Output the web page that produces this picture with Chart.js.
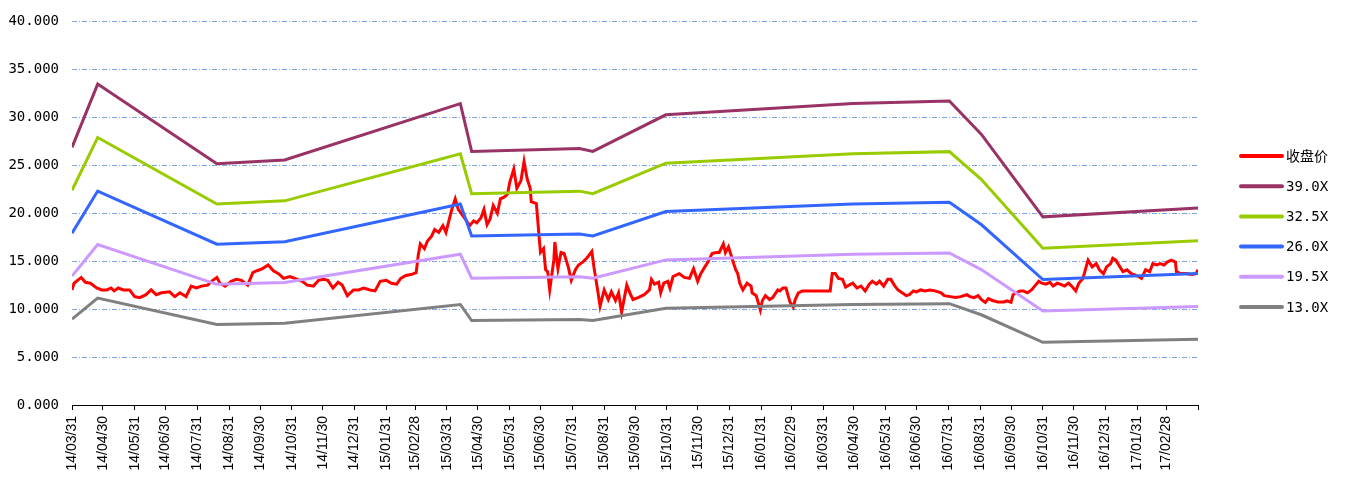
<!DOCTYPE html>
<html>
<head>
<meta charset="utf-8">
<script src="https://cdn.jsdelivr.net/npm/chart.js@4.4.1/dist/chart.umd.min.js"></script>
<style>
  html, body { margin: 0; padding: 0; background: #fff; }
  #wrap { width: 1353px; height: 485px; position: relative; }
</style>
</head>
<body>
<div id="wrap"><canvas id="pe"></canvas></div>
<script>
// month-end tick labels on the date axis (axis runs to 17/03/31, unlabeled)
const tickLabels = ['14/03/31','14/04/30','14/05/31','14/06/30','14/07/31','14/08/31','14/09/30','14/10/31','14/11/30','14/12/31',
  '15/01/31','15/02/28','15/03/31','15/04/30','15/05/31','15/06/30','15/07/31','15/08/31','15/09/30','15/10/31','15/11/30','15/12/31',
  '16/01/31','16/02/29','16/03/31','16/04/30','16/05/31','16/06/30','16/07/31','16/08/31','16/09/30','16/10/31','16/11/30','16/12/31',
  '17/01/31','17/02/28'];
const axisStart = '14/03/31';
const axisEnd = '17/03/31';

// closing price (收盘价)
const closeDates = ['14/03/31','14/04/02','14/04/09','14/04/13','14/04/18','14/04/24','14/04/29','14/05/04','14/05/08','14/05/11',
  '14/05/15','14/05/20','14/05/26','14/05/31','14/06/05','14/06/11','14/06/16','14/06/21','14/06/26','14/07/04',
  '14/07/09','14/07/14','14/07/20','14/07/25','14/07/30','14/08/04','14/08/10','14/08/15','14/08/19','14/08/22',
  '14/08/27','14/09/02','14/09/07','14/09/12','14/09/18','14/09/23','14/09/27','14/10/02','14/10/08','14/10/13',
  '14/10/18','14/10/23','14/10/29','14/11/03','14/11/10','14/11/15','14/11/21','14/11/26','14/12/01','14/12/05',
  '14/12/10','14/12/15','14/12/19','14/12/24','14/12/30','15/01/04','15/01/09','15/01/15','15/01/20','15/01/25',
  '15/01/31','15/02/05','15/02/10','15/02/14','15/02/19','15/02/24','15/03/01','15/03/03','15/03/05','15/03/09',
  '15/03/12','15/03/16','15/03/19','15/03/23','15/03/27','15/03/30','15/04/03','15/04/05','15/04/08','15/04/11',
  '15/04/15','15/04/19','15/04/22','15/04/26','15/04/29','15/05/03','15/05/06','15/05/09','15/05/12','15/05/15',
  '15/05/19','15/05/22','15/05/26','15/05/29','15/05/31','15/06/04','15/06/07','15/06/11','15/06/14','15/06/17',
  '15/06/20','15/06/21','15/06/26','15/06/29','15/06/30','15/07/03','15/07/05','15/07/07','15/07/09','15/07/13',
  '15/07/14','15/07/17','15/07/20','15/07/23','15/07/27','15/07/30','15/08/03','15/08/06','15/08/10','15/08/14',
  '15/08/19','15/08/21','15/08/24','15/08/27','15/08/31','15/09/04','15/09/07','15/09/11','15/09/14','15/09/17',
  '15/09/22','15/09/25','15/09/28','15/10/03','15/10/09','15/10/14','15/10/16','15/10/19','15/10/23','15/10/25',
  '15/10/28','15/11/01','15/11/03','15/11/06','15/11/12','15/11/17','15/11/22','15/11/26','15/11/30','15/12/03',
  '15/12/07','15/12/10','15/12/14','15/12/18','15/12/21','15/12/25','15/12/27','15/12/30','16/01/03','16/01/06',
  '16/01/08','16/01/10','16/01/13','16/01/17','16/01/21','16/01/22','16/01/26','16/01/30','16/02/01','16/02/04',
  '16/02/08','16/02/11','16/02/16','16/02/18','16/02/21','16/02/24','16/02/26','16/02/28','16/03/02','16/03/04',
  '16/03/07','16/03/11','16/04/07','16/04/09','16/04/12','16/04/15','16/04/19','16/04/22','16/04/27','16/04/29',
  '16/05/03','16/05/07','16/05/11','16/05/15','16/05/18','16/05/22','16/05/25','16/05/29','16/06/02','16/06/05',
  '16/06/09','16/06/12','16/06/16','16/06/20','16/06/23','16/06/27','16/06/30','16/07/04','16/07/08','16/07/13',
  '16/07/18','16/07/24','16/07/27','16/08/02','16/08/07','16/08/12','16/08/18','16/08/21','16/08/25','16/08/29',
  '16/09/01','16/09/05','16/09/08','16/09/12','16/09/17','16/09/23','16/09/26','16/09/30','16/10/02','16/10/05',
  '16/10/09','16/10/12','16/10/16','16/10/20','16/10/23','16/10/27','16/10/30','16/11/03','16/11/07','16/11/10',
  '16/11/14','16/11/17','16/11/21','16/11/25','16/11/28','16/12/02','16/12/05','16/12/09','16/12/13','16/12/14',
  '16/12/18','16/12/22','16/12/25','16/12/29','17/01/01','17/01/05','17/01/07','17/01/10','17/01/14','17/01/17',
  '17/01/21','17/01/25','17/01/28','17/02/01','17/02/04','17/02/08','17/02/12','17/02/15','17/02/19','17/02/22',
  '17/02/26','17/03/01','17/03/05','17/03/09','17/03/10','17/03/14','17/03/19','17/03/25','17/03/29','17/03/31'];
const closeValues = [12.0,12.7,13.3,12.8,12.7,12.2,12.0,12.0,12.2,11.9,
  12.2,12.0,12.0,11.3,11.2,11.5,12.0,11.5,11.7,11.8,
  11.3,11.7,11.3,12.4,12.2,12.4,12.5,13.0,13.3,12.7,
  12.4,12.9,13.1,13.0,12.5,13.8,14.0,14.2,14.6,14.0,
  13.7,13.2,13.4,13.2,12.9,12.5,12.4,13.0,13.1,13.0,
  12.2,12.8,12.5,11.4,12.0,12.0,12.2,12.0,11.9,12.9,
  13.0,12.7,12.6,13.2,13.5,13.6,13.8,15.6,16.8,16.3,
  17.1,17.6,18.3,18.0,18.7,18.0,19.7,20.5,21.5,20.4,
  19.8,19.2,18.7,19.2,19.0,19.5,20.4,18.8,19.4,20.8,
  20.0,21.5,21.7,22.0,23.2,24.6,22.6,23.4,25.4,23.6,
  22.6,21.2,21.0,17.1,15.9,16.3,14.1,13.9,12.0,15.1,
  17.0,14.2,15.9,15.8,14.4,13.0,14.1,14.6,14.9,15.3,
  16.0,14.4,12.4,10.3,12.0,11.0,11.8,10.9,11.7,9.7,
  12.5,11.7,11.0,11.2,11.5,12.0,13.1,12.6,12.8,11.7,
  12.7,12.9,12.2,13.4,13.7,13.3,13.2,14.2,12.9,13.7,
  14.4,14.9,15.8,15.9,15.9,16.8,15.9,16.5,15.1,14.1,
  13.7,12.7,12.0,12.7,12.4,11.7,11.4,9.9,10.9,11.4,
  11.0,11.2,12.0,11.9,12.2,12.2,11.4,10.7,10.2,11.0,
  11.7,11.9,11.9,13.7,13.7,13.2,13.1,12.3,12.6,12.7,
  12.2,12.4,11.9,12.6,12.9,12.6,12.9,12.4,13.1,13.1,
  12.4,12.0,11.7,11.4,11.5,11.9,11.8,12.0,11.9,12.0,
  11.9,11.7,11.4,11.3,11.2,11.3,11.5,11.3,11.2,11.4,
  11.0,10.7,11.1,10.9,10.75,10.75,10.85,10.7,11.5,11.7,
  11.9,11.9,11.7,12.0,12.4,12.9,12.7,12.6,12.8,12.4,
  12.7,12.6,12.4,12.7,12.4,11.9,12.7,13.2,14.75,15.1,
  14.4,14.75,14.1,13.7,14.4,14.75,15.3,15.1,14.4,13.9,
  14.1,13.7,13.6,13.4,13.2,14.1,13.9,14.75,14.6,14.75,
  14.6,14.9,15.1,14.9,13.9,13.7,13.7,13.6,13.7,14.1];

// PE band vertices
const bandDates = ['14/03/31','14/04/25','14/08/19','14/10/24','15/04/13','15/04/24','15/08/07',
  '15/08/20','15/10/30','16/04/29','16/08/01','16/09/01','16/10/31','17/03/31'];
const pe390 = [26.87,33.46,25.16,25.55,31.43,26.44,26.75,26.44,30.26,31.43,31.71,28.24,19.62,20.55];
const pe325 = [22.39,27.89,20.96,21.29,26.20,22.04,22.30,22.04,25.22,26.20,26.42,23.53,16.35,17.13];
const pe260 = [17.91,22.31,16.77,17.03,20.96,17.63,17.84,17.63,20.18,20.96,21.14,18.82,13.08,13.70];
const pe195 = [13.44,16.73,12.58,12.77,15.72,13.22,13.38,13.22,15.13,15.72,15.85,14.12,9.81,10.28];
const pe130 = [8.96,11.15,8.39,8.52,10.48,8.81,8.92,8.81,10.09,10.48,10.57,9.41,6.54,6.85];

const seriesNames = ['收盘价', '39.0X', '32.5X', '26.0X', '19.5X', '13.0X'];
const seriesColors = ['#ff0000', '#993366', '#99cc00', '#3366ff', '#cc99ff', '#808080'];

const yTicks = [0, 5, 10, 15, 20, 25, 30, 35, 40];

function toDay(s) {
  const [y, m, d] = s.split('/').map(Number);
  const [y0, m0, d0] = axisStart.split('/').map(Number);
  return Math.round((Date.UTC(2000 + y, m - 1, d) - Date.UTC(2000 + y0, m0 - 1, d0)) / 864e5);
}

function pts(dates, vals) {
  return dates.map((d, i) => ({ x: toDay(d), y: vals[i] }));
}

const MONO = '"DejaVu Sans Mono", "Noto Sans CJK SC", monospace';

const lineDs = (i, data, order) => ({
  label: seriesNames[i],
  data,
  borderColor: seriesColors[i],
  backgroundColor: seriesColors[i],
  borderWidth: 3,
  pointRadius: 0,
  tension: 0,
  fill: false,
  order,
});

// legend drawn at the right, Excel-like
const sideLegend = {
  id: 'sideLegend',
  afterDraw(chart) {
    const ctx = chart.ctx;
    const x0 = chart.chartArea.right + 42;
    ctx.save();
    ctx.font = '14px ' + MONO;
    ctx.textBaseline = 'middle';
    chart.data.datasets.forEach((ds, i) => {
      const y = 156 + i * 30.2;
      ctx.strokeStyle = ds.borderColor;
      ctx.lineWidth = 4;
      ctx.lineCap = 'round';
      ctx.beginPath();
      ctx.moveTo(x0 + 1, y);
      ctx.lineTo(x0 + 42, y);
      ctx.stroke();
      ctx.fillStyle = '#000';
      ctx.fillText(ds.label, x0 + 46, y + 1);
    });
    ctx.restore();
  },
};

new Chart(document.getElementById('pe').getContext('2d'), {
  type: 'line',
  data: {
    datasets: [
      lineDs(0, pts(closeDates, closeValues), 1),
      lineDs(1, pts(bandDates, pe390), 0),
      lineDs(2, pts(bandDates, pe325), 0),
      lineDs(3, pts(bandDates, pe260), 0),
      lineDs(4, pts(bandDates, pe195), 0),
      lineDs(5, pts(bandDates, pe130), 0),
    ],
  },
  options: {
    responsive: true,
    maintainAspectRatio: false,
    animation: false,
    layout: { padding: { top: 15, right: 155, bottom: 0, left: 8 } },
    plugins: {
      legend: { display: false },
      tooltip: { enabled: false },
    },
    scales: {
      x: {
        type: 'linear',
        min: toDay(axisStart),
        max: toDay(axisEnd),
        afterBuildTicks: (s) => {
          s.ticks = tickLabels.map((t) => ({ value: toDay(t) })).concat([{ value: toDay(axisEnd) }]);
        },
        afterFit: (s) => { s.height = 80; },
        ticks: {
          autoSkip: false,
          minRotation: 90,
          maxRotation: 90,
          padding: 6,
          color: '#000',
          font: { family: '"Liberation Sans", Arial, sans-serif', size: 14 },
          callback: (v, i) => (i < tickLabels.length ? tickLabels[i] : ''),
        },
        grid: {
          display: true,
          drawOnChartArea: false,
          drawTicks: true,
          tickLength: 5,
          tickColor: '#000',
          color: '#000',
        },
        border: { display: true, color: '#000', width: 1 },
      },
      y: {
        min: 0,
        max: 40,
        afterBuildTicks: (s) => { s.ticks = yTicks.map((v) => ({ value: v })); },
        afterFit: (s) => { s.width = 64; },
        ticks: {
          padding: 13,
          color: '#000',
          font: { family: MONO, size: 14 },
          callback: (v) => Number(v).toFixed(3),
        },
        grid: { color: '#7ca6e2', lineWidth: 1, drawTicks: false },
        border: { display: false, dash: [5, 2, 1, 2] },
      },
    },
  },
  plugins: [sideLegend],
});
</script>
</body>
</html>
